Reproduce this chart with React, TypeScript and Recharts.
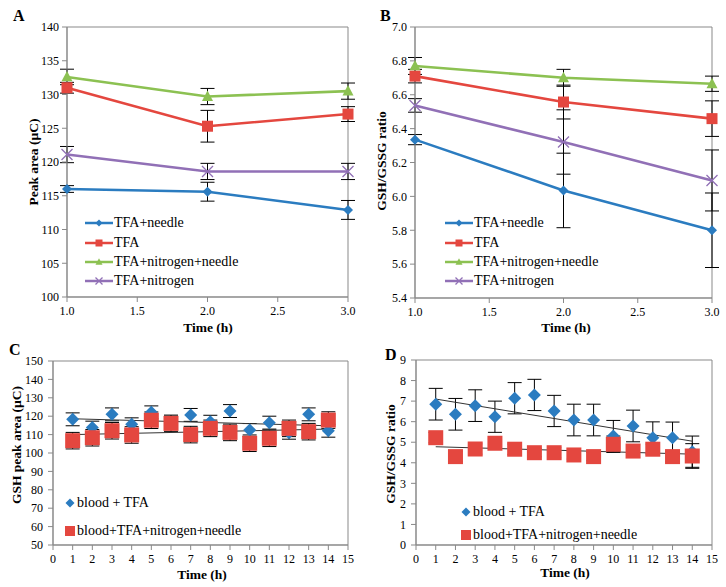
import React from "react";
import {
  LineChart,
  Line,
  ScatterChart,
  Scatter,
  XAxis,
  YAxis,
  ErrorBar,
  ReferenceArea,
  ReferenceLine,
  Legend,
} from "recharts";

const FONT = "'Liberation Serif', 'Times New Roman', serif";
const GREY = "#898989";

// panels A and B
const hours = [1, 2, 3];
const names = ["TFA+needle", "TFA", "TFA+nitrogen+needle", "TFA+nitrogen"];
const colors = ["#2b7cc0", "#e4473f", "#8cc152", "#9170b6"];
const marks = ["diamond", "square", "triangle", "cross"];

const areaNeedle = [116.0, 115.6, 112.9];
const areaTfa = [131.0, 125.3, 127.1];
const areaNitroNeedle = [132.6, 129.7, 130.5];
const areaNitro = [121.1, 118.6, 118.6];
const areaNeedleErr = [0.5, 1.4, 1.4];
const areaTfaErr = [0.8, 2.35, 1.1];
const areaNitroNeedleErr = [1.15, 1.2, 1.2];
const areaNitroErr = [1.2, 1.2, 1.2];

const ratioNeedle = [6.335, 6.035, 5.8];
const ratioTfa = [6.71, 6.557, 6.459];
const ratioNitroNeedle = [6.77, 6.7, 6.665];
const ratioNitro = [6.537, 6.321, 6.094];
const ratioNeedleErr = [0.03, 0.22, 0.22];
const ratioTfaErr = [0.04, 0.1, 0.105];
const ratioNitroNeedleErr = [0.05, 0.05, 0.045];
const ratioNitroErr = [0.04, 0.19, 0.18];

const xTicksAB = [1, 1.5, 2, 2.5, 3];
const yTicksA = [100, 105, 110, 115, 120, 125, 130, 135, 140];
const yTicksB = [5.4, 5.6, 5.8, 6.0, 6.2, 6.4, 6.6, 6.8, 7.0];

// panels C and D
const days = [1, 2, 3, 4, 5, 6, 7, 8, 9, 10, 11, 12, 13, 14];
const pointNames = ["blood + TFA", "blood+TFA+nitrogen+needle"];
const gshTfa = [118.3, 113.8, 121.0, 115.6, 122.1, 116.5, 120.7, 117.0, 122.8, 112.5, 116.5, 111.0, 121.0, 112.1];
const gshMix = [106.7, 108.3, 112.1, 109.8, 117.8, 116.1, 110.0, 113.4, 111.2, 105.3, 108.0, 113.4, 111.6, 117.9];
const gshTfaErr = [3.5, 3.5, 3.5, 3.5, 3.5, 3.5, 3.5, 3.5, 3.5, 3.5, 3.5, 3.5, 3.5, 3.5];
const gshMixErr = [4.5, 4.5, 4.5, 4.5, 4.5, 4.5, 4.5, 4.5, 4.5, 4.5, 4.5, 4.5, 4.5, 4.5];
const gshTfaTrend = [118.6, 114.8];
const gshMixTrend = [110.0, 113.0];

const ratioBloodTfa = [6.85, 6.36, 6.78, 6.24, 7.14, 7.3, 6.52, 6.08, 6.08, 5.3, 5.79, 5.22, 5.22, 4.54];
const ratioBloodMix = [5.22, 4.3, 4.67, 4.95, 4.66, 4.49, 4.49, 4.38, 4.3, 4.9, 4.57, 4.66, 4.3, 4.33];
const ratioBloodTfaErr = [0.77, 0.77, 0.77, 0.76, 0.76, 0.76, 0.76, 0.77, 0.77, 0.76, 0.77, 0.77, 0.76, 0.76];
const ratioBloodMixErr = [0.25, 0.25, 0.25, 0.2, 0.25, 0.2, 0.25, 0.2, 0.2, 0.4, 0.3, 0.25, 0.25, 0.6];
const ratioTfaTrend = [7.1, 5.05];
const ratioMixTrend = [4.78, 4.42];

const xTicksCD = [0, 1, 2, 3, 4, 5, 6, 7, 8, 9, 10, 11, 12, 13, 14, 15];
const yTicksC = [50, 60, 70, 80, 90, 100, 110, 120, 130, 140, 150];
const yTicksD = [0, 1, 2, 3, 4, 5, 6, 7, 8, 9];

const buildRows = (vals: number[][], errs: number[][]) =>
  hours.map((h, i) => {
    const row: any = { h };
    vals.forEach((v, k) => {
      row["s" + k] = v[i];
      row["e" + k] = errs[k][i];
    });
    return row;
  });

const buildPoints = (vals: number[], errs: number[]) =>
  days.map((d, i) => ({ d, v: vals[i], e: errs[i] }));

const Marker = ({ kind, cx, cy, size, color }: any) => {
  const r = size / 2;
  if (kind === "diamond")
    return <path d={`M${cx},${cy - r}L${cx + r},${cy}L${cx},${cy + r}L${cx - r},${cy}Z`} fill={color} />;
  if (kind === "square")
    return <rect x={cx - r} y={cy - r} width={size} height={size} fill={color} />;
  if (kind === "triangle")
    return <path d={`M${cx},${cy - r * 1.1}L${cx + r},${cy + r * 0.8}L${cx - r},${cy + r * 0.8}Z`} fill={color} />;
  return (
    <path
      d={`M${cx - r},${cy - r}L${cx + r},${cy + r}M${cx + r},${cy - r}L${cx - r},${cy + r}`}
      stroke={color}
      strokeWidth={1.3}
      fill="none"
    />
  );
};

const tickStyle = { fill: "#000", fontSize: 12, fontFamily: FONT };

const LineLegend = () => (
  <div style={{ fontFamily: FONT, fontSize: 14, color: "#000" }}>
    {names.map((n, k) => (
      <div key={n} style={{ display: "flex", alignItems: "center", height: 19.4 }}>
        <svg width={28} height={12} style={{ display: "block" }}>
          <line x1={0} y1={6} x2={28} y2={6} stroke={colors[k]} strokeWidth={2.5} />
          <Marker kind={marks[k]} cx={14} cy={6} size={7} color={colors[k]} />
        </svg>
        <span style={{ marginLeft: 1, lineHeight: 1 }}>{n}</span>
      </div>
    ))}
  </div>
);

const PointLegend = ({ gap }: any) => (
  <div style={{ fontFamily: FONT, fontSize: 14, color: "#000" }}>
    {pointNames.map((n, k) => (
      <div key={n} style={{ display: "flex", alignItems: "center", height: gap }}>
        <svg width={12} height={12} style={{ display: "block" }}>
          <Marker kind={k === 0 ? "diamond" : "square"} cx={6} cy={6} size={k === 0 ? 9 : 10} color={colors[k]} />
        </svg>
        <span style={{ marginLeft: 1, lineHeight: 1 }}>{n}</span>
      </div>
    ))}
  </div>
);

function LinePanel({ left, rows, domain, yTicks, fmt, yWidth, margin, legendLeft }: any) {
  return (
    <div style={{ position: "absolute", left, top: 0 }}>
      <LineChart width={363} height={330} data={rows} margin={margin}>
        <ReferenceArea x1={1} x2={3} y1={domain[0]} y2={domain[1]} fill="none" stroke={GREY} ifOverflow="visible" />
        <XAxis
          dataKey="h"
          type="number"
          domain={[1, 3]}
          ticks={xTicksAB}
          interval={0}
          height={30}
          tickFormatter={(v: number) => v.toFixed(1)}
          tick={tickStyle}
          tickSize={5}
          tickMargin={4}
          axisLine={{ stroke: GREY }}
          tickLine={{ stroke: GREY }}
        />
        <YAxis
          type="number"
          domain={domain}
          ticks={yTicks}
          interval={0}
          width={yWidth}
          tickFormatter={fmt}
          tick={tickStyle}
          tickSize={5}
          tickMargin={3}
          axisLine={{ stroke: GREY }}
          tickLine={{ stroke: GREY }}
        />
        {names.map((n, k) => (
          <Line
            key={n}
            name={n}
            dataKey={"s" + k}
            type="linear"
            stroke={colors[k]}
            strokeWidth={2.6}
            isAnimationActive={false}
            dot={(p: any) => (
              <Marker key={p.index} kind={marks[k]} cx={p.cx} cy={p.cy} size={k === 0 ? 10 : 11} color={colors[k]} />
            )}
            activeDot={false}
          >
            <ErrorBar dataKey={"e" + k} width={7} stroke="#000" strokeWidth={1} />
          </Line>
        ))}
        <Legend
          layout="vertical"
          align="center"
          verticalAlign="middle"
          content={() => <LineLegend />}
          wrapperStyle={{ left: legendLeft, top: 213.5, width: 220 }}
        />
      </LineChart>
    </div>
  );
}

function PointPanel({ left, blue, red, domain, yTicks, margin, blueTrend, redTrend, legendLeft, legendTop, gap }: any) {
  return (
    <div style={{ position: "absolute", left, top: 330 }}>
      <ScatterChart width={363} height={257} margin={margin}>
        <ReferenceArea x1={0} x2={15} y1={domain[0]} y2={domain[1]} fill="none" stroke={GREY} ifOverflow="visible" />
        <XAxis
          dataKey="d"
          type="number"
          domain={[0, 15]}
          ticks={xTicksCD}
          interval={0}
          height={30}
          tick={tickStyle}
          tickSize={5}
          tickMargin={4}
          axisLine={{ stroke: GREY }}
          tickLine={{ stroke: GREY }}
        />
        <YAxis
          dataKey="v"
          type="number"
          domain={domain}
          ticks={yTicks}
          interval={0}
          width={53}
          tick={tickStyle}
          tickSize={5}
          tickMargin={5}
          axisLine={{ stroke: GREY }}
          tickLine={{ stroke: GREY }}
        />
        <Scatter
          name={pointNames[0]}
          data={blue}
          isAnimationActive={false}
          shape={(p: any) => <Marker kind="diamond" cx={p.cx} cy={p.cy} size={13} color={colors[0]} />}
        >
          <ErrorBar dataKey="e" direction="y" width={7} stroke="#000" strokeWidth={1} />
        </Scatter>
        <Scatter
          name={pointNames[1]}
          data={red}
          isAnimationActive={false}
          shape={(p: any) => <Marker kind="square" cx={p.cx} cy={p.cy} size={15} color={colors[1]} />}
        >
          <ErrorBar dataKey="e" direction="y" width={7} stroke="#000" strokeWidth={1} />
        </Scatter>
        <ReferenceLine
          segment={[{ x: 1, y: blueTrend[0] }, { x: 14, y: blueTrend[1] }]}
          stroke="#333"
          strokeWidth={1}
        />
        <ReferenceLine
          segment={[{ x: 1, y: redTrend[0] }, { x: 14, y: redTrend[1] }]}
          stroke="#333"
          strokeWidth={1}
        />
        <Legend
          layout="vertical"
          align="center"
          verticalAlign="middle"
          content={() => <PointLegend gap={gap} />}
          wrapperStyle={{ left: legendLeft, top: legendTop, width: 220 }}
        />
      </ScatterChart>
    </div>
  );
}

const title = { fontFamily: FONT, fontWeight: 700, fontSize: 13.5, fill: "#000" } as const;
const letter = { fontFamily: FONT, fontWeight: 700, fontSize: 16, fill: "#000" } as const;

export default function App() {
  const rowsA = buildRows(
    [areaNeedle, areaTfa, areaNitroNeedle, areaNitro],
    [areaNeedleErr, areaTfaErr, areaNitroNeedleErr, areaNitroErr]
  );
  const rowsB = buildRows(
    [ratioNeedle, ratioTfa, ratioNitroNeedle, ratioNitro],
    [ratioNeedleErr, ratioTfaErr, ratioNitroNeedleErr, ratioNitroErr]
  );
  return (
    <div style={{ position: "absolute", left: 0, top: 0, width: 726, height: 587, background: "#fff" }}>
      <LinePanel
        left={0}
        rows={rowsA}
        domain={[100, 140]}
        yTicks={yTicksA}
        fmt={(v: number) => String(v)}
        yWidth={67}
        margin={{ top: 27, right: 15, left: 0, bottom: 3 }}
        legendLeft={85}
      />
      <LinePanel
        left={363}
        rows={rowsB}
        domain={[5.4, 7.0]}
        yTicks={yTicksB}
        fmt={(v: number) => v.toFixed(1)}
        yWidth={52}
        margin={{ top: 27, right: 14, left: 0, bottom: 2 }}
        legendLeft={82}
      />
      <PointPanel
        left={0}
        blue={buildPoints(gshTfa, gshTfaErr)}
        red={buildPoints(gshMix, gshMixErr)}
        domain={[50, 150]}
        yTicks={yTicksC}
        margin={{ top: 31, right: 15, left: 0, bottom: 12 }}
        blueTrend={gshTfaTrend}
        redTrend={gshMixTrend}
        legendLeft={64}
        legendTop={159}
        gap={27.7}
      />
      <PointPanel
        left={363}
        blue={buildPoints(ratioBloodTfa, ratioBloodTfaErr)}
        red={buildPoints(ratioBloodMix, ratioBloodMixErr)}
        domain={[0, 9]}
        yTicks={yTicksD}
        margin={{ top: 30, right: 14, left: 0, bottom: 12 }}
        blueTrend={ratioTfaTrend}
        redTrend={ratioMixTrend}
        legendLeft={97}
        legendTop={170.5}
        gap={23}
      />
      <svg width={726} height={587} style={{ position: "absolute", left: 0, top: 0, pointerEvents: "none" }}>
        <text x={13} y={21} style={letter}>A</text>
        <text x={380} y={21} style={letter}>B</text>
        <text x={9} y={355} style={letter}>C</text>
        <text x={385} y={360} style={letter}>D</text>
        <text x={33} y={162} transform="rotate(-90 33 162)" textAnchor="middle" dominantBaseline="central" style={title}>
          Peak area (µC)
        </text>
        <text x={381} y={161} transform="rotate(-90 381 161)" textAnchor="middle" dominantBaseline="central" style={title}>
          GSH/GSSG ratio
        </text>
        <text x={16} y={445} transform="rotate(-90 16 445)" textAnchor="middle" dominantBaseline="central" style={title}>
          GSH peak area (µC)
        </text>
        <text x={390} y={454} transform="rotate(-90 390 454)" textAnchor="middle" dominantBaseline="central" style={title}>
          GSH/GSSG ratio
        </text>
        <text x={208} y={327} textAnchor="middle" dominantBaseline="central" style={title}>Time (h)</text>
        <text x={566} y={327} textAnchor="middle" dominantBaseline="central" style={title}>Time (h)</text>
        <text x={202} y={574} textAnchor="middle" dominantBaseline="central" style={title}>Time (h)</text>
        <text x={565} y={572} textAnchor="middle" dominantBaseline="central" style={title}>Time (h)</text>
      </svg>
    </div>
  );
}
